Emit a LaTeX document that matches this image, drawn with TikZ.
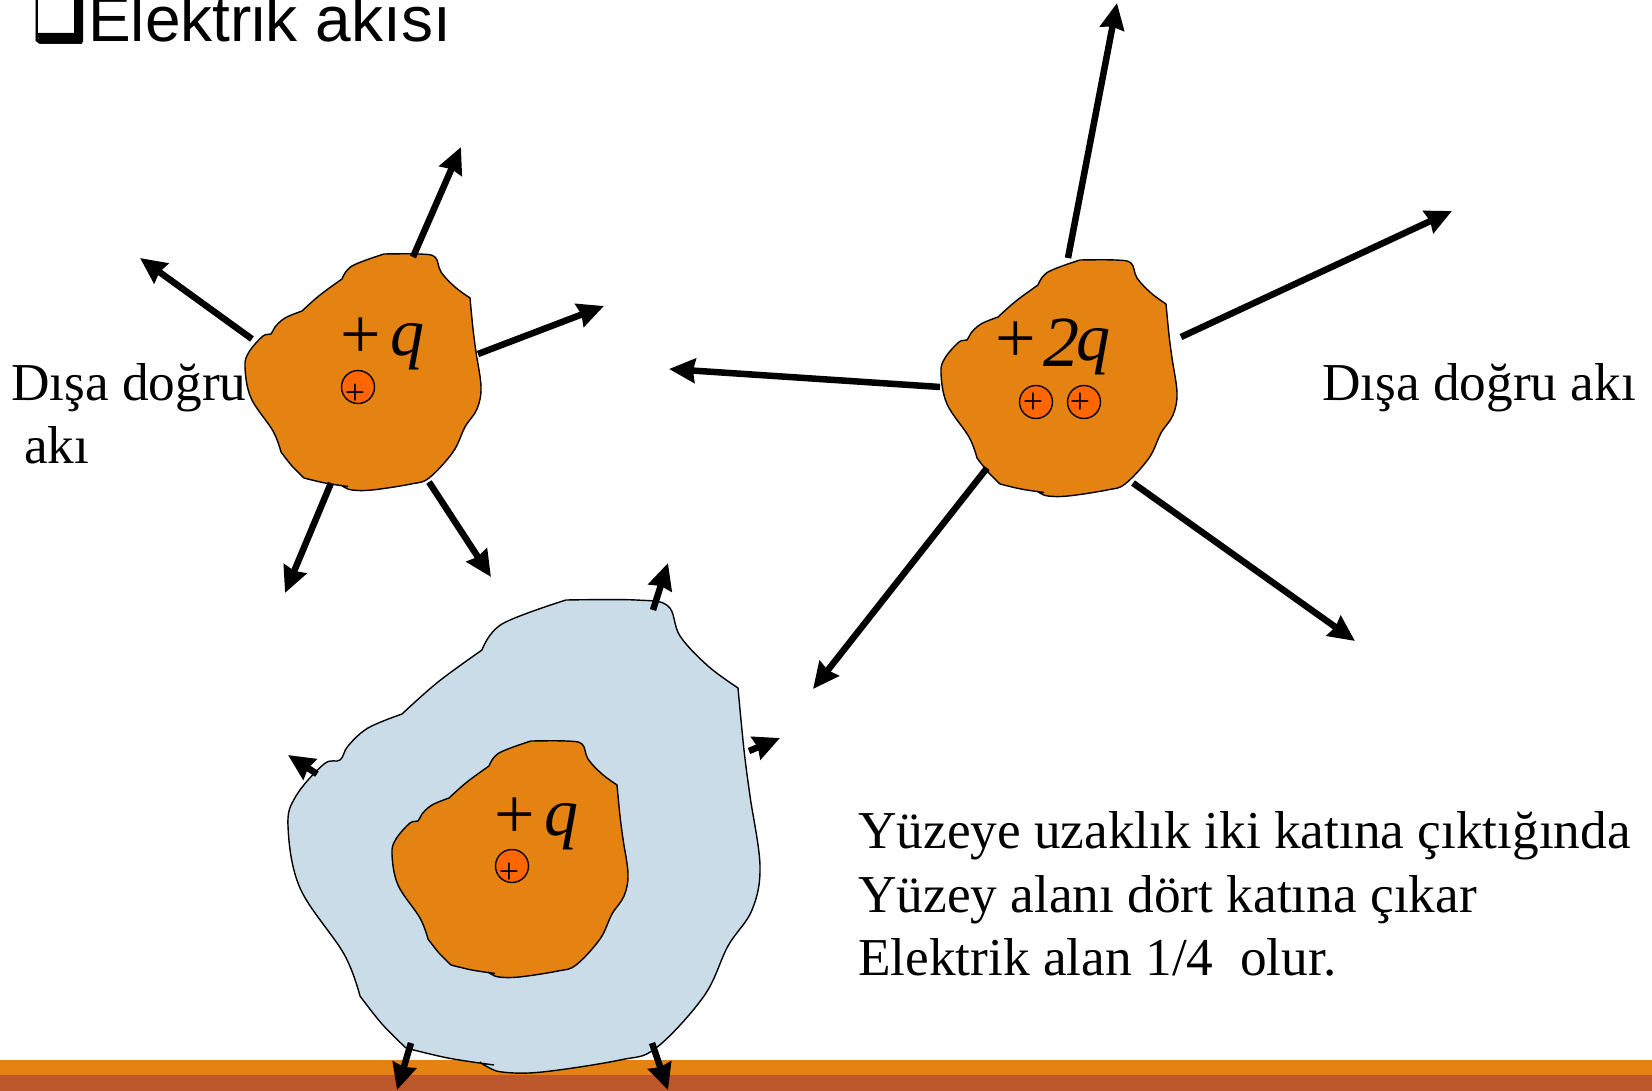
\documentclass[tikz,border=0pt]{standalone}
\usepackage{fontspec}
\setmainfont{Liberation Serif}
\setsansfont{Liberation Sans}
\newfontfamily\symfont{DejaVu Sans}
\usetikzlibrary{arrows.meta}

\definecolor{blobor}{HTML}{E48312}
\definecolor{barbr}{HTML}{BD582C}
\definecolor{chargeor}{HTML}{FF6600}
\definecolor{shellbl}{HTML}{CADCE8}

\tikzset{
  blob/.style={draw=black,line width=1.4pt,line join=round},
  flux/.style={line width=6.5pt,-{Stealth[length=26pt,width=24pt,inset=2pt]}},
  charge/.style={circle,draw=black,line width=1.4pt,fill=chargeor,minimum size=33pt,inner sep=0pt},
  chargesign/.style={inner sep=0pt,font=\fontsize{36}{36}\selectfont},
  bigsign/.style={inner sep=0pt,font=\fontsize{72}{72}\selectfont},
  bigq/.style={inner sep=0pt,font=\fontsize{68}{68}\selectfont\itshape},
  caption/.style={inner sep=0pt,anchor=base west,font=\fontsize{53.3}{53.3}\selectfont}
}

\newcommand{\blobpath}{
  plot[smooth,tension=.6] coordinates {(348,486.5) (325,483) (304,478)}
  -- plot[smooth,tension=.6] coordinates {(304,478) (292,466) (281,452)}
  -- plot[smooth,tension=.6] coordinates {(281,452) (273,431) (251,398) (245,367) (249,352) (263,336) (271,334) (275,327) (285,318) (302,311)}
  -- plot[smooth,tension=.6] coordinates {(302,311) (320,295) (342,279)}
  -- plot[smooth,tension=.6] coordinates {(342,279) (352,266) (384,254)}
  -- plot[smooth,tension=.6] coordinates {(384,254) (419,254) (435,257) (441,272) (455,287) (470,298)}
  -- plot[smooth,tension=.6] coordinates {(470,298) (473,329) (476,352) (481,387) (477,409) (465,427) (453,452) (429,478) (411,484) (372,490) (352,490) (344,487) (341,485)}
}

\begin{document}
\begin{tikzpicture}[x=1pt,y=-1pt]
  \useasboundingbox (0,0) rectangle (1652,1091);

  \fill[blobor] (0,1060) rectangle (1652,1075);
  \fill[barbr] (0,1075) rectangle (1652,1091);

  \node[anchor=base west,inner sep=0pt,font=\fontsize{60}{60}\selectfont\symfont] (bullet) at (32,42) {❑};
  % heavy shadow of the bullet
  \fill (74,0) -- (83,0) -- (83,42) -- (42,42) -- (37,37) -- (37,33) -- (74,33) -- cycle;
  \node[anchor=base west,inner sep=0pt,font=\fontsize{64}{64}\selectfont\sffamily] (title) at (88,42) {Elektrik akısı};

  \node[caption] (outleft) at (11,400) {Dışa doğru};
  \node[caption] (outleftb) at (24,463) {akı};
  \node[caption] (outright) at (1322,400) {Dışa doğru akı};
  \node[caption] (lawa) at (858,848) {Yüzeye uzaklık iki katına çıktığında};
  \node[caption] (lawb) at (858,912) {Yüzey alanı dört katına çıkar};
  \node[caption] (lawc) at (858,975) {Elektrik alan 1/4\ \ olur.};

  \draw[blob,fill=blobor] \blobpath;
  \begin{scope}[shift={(696,6)}]
    \draw[blob,fill=blobor] \blobpath;
  \end{scope}
  \begin{scope}[shift={(-202,92)},scale=2]
    \draw[blob,fill=shellbl] \blobpath;
  \end{scope}
  \begin{scope}[shift={(147,487)}]
    \draw[blob,fill=blobor] \blobpath;
  \end{scope}

  \node[charge] (ca) at (358,387) {};
  \node[chargesign] (pa) at (355,394) {+};
  \node[bigsign] (qaplus) at (361,338) {+};
  \node[bigq] (qa) at (407,347) {q};

  \node[charge] (cb) at (1036,402) {};
  \node[charge] (cc) at (1084,402) {};
  \node[chargesign] (pb) at (1033,403) {+};
  \node[chargesign] (pc) at (1080,403) {+};
  \node[bigsign] (qbplus) at (1016,342) {+};
  \node[bigsign,font=\fontsize{72}{72}\selectfont\itshape] (qbtwo) at (1061,343) {2};
  \node[bigq] (qb) at (1093,352) {q};

  \node[charge] (cd) at (512,866) {};
  \node[chargesign] (pd) at (509,873) {+};
  \node[bigsign] (qdplus) at (515,818) {+};
  \node[bigq] (qd) at (561,827) {q};

  \foreach \nm/\sx/\sy/\ex/\ey in {
      aa/413/257/461/147, ab/252/339/140/258, ac/478/354/604/306,
      ad/331/483/285/593, ae/429/482/491/577,
      ba/1068/258/1117/3, bb/1181/337/1452/211, bc/940/387/669/369,
      bd/987/468/813/689, be/1133/483/1355/641,
      da/653/610/668/563, db/749/751/780/738, dc/317/774/288/755,
      dd/411/1043/397/1090, de/652/1043/668/1090} {
    \coordinate (\nm s) at (\sx,\sy);
    \coordinate (\nm e) at (\ex,\ey);
    \draw[flux] (\nm s) -- (\nm e);
  }
\end{tikzpicture}
\end{document}
